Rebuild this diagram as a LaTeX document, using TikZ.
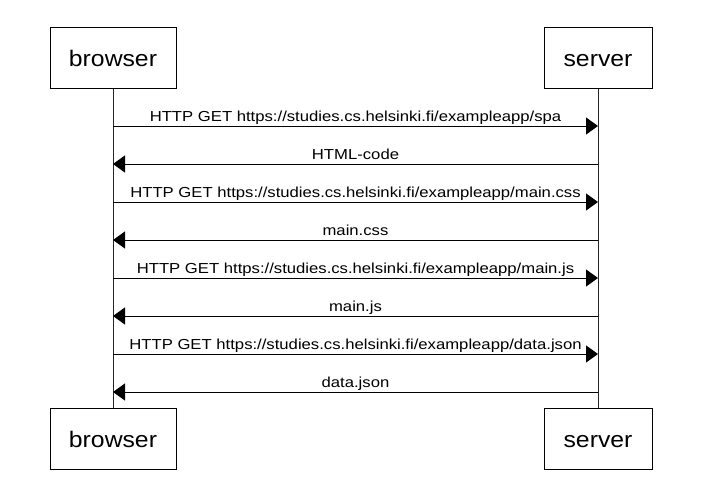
\documentclass[tikz,border=0pt]{standalone}
\usepackage{fontspec}
\usetikzlibrary{arrows.meta}
\newfontfamily\lblfont[FakeStretch=1.15]{Liberation Sans}
\newfontfamily\boxfont[FakeStretch=1.1]{Liberation Sans}
\begin{document}
\begin{tikzpicture}[x=1pt,y=-1pt,
  actor/.style={draw=black, line width=1pt, minimum height=61pt, inner sep=0pt,
    text height=17pt, text depth=0pt,
    font=\boxfont\fontsize{22.5pt}{26pt}\selectfont},
  lifeline/.style={draw=black!85, line width=1pt},
  msg/.style={draw=black, line width=1pt, -{Triangle[length=12pt,width=17pt]}},
  lbl/.style={midway, anchor=base, yshift=5pt, inner sep=0pt,
    font=\lblfont\fontsize{14.5pt}{17pt}\selectfont}]
\useasboundingbox (0,0) rectangle (702,485);
\fill[white] (0,0) rectangle (702,485);
\node[actor, minimum width=126pt] (bt) at (113,57.5) {browser};
\node[actor, minimum width=108pt] (st) at (598,57.5) {server};
\node[actor, minimum width=126pt] (bb) at (113,438.5) {browser};
\node[actor, minimum width=108pt] (sb) at (598,438.5) {server};
\draw[lifeline] (bt) -- (bb);
\draw[lifeline] (st) -- (sb);
\foreach \i in {1,...,8} {
  \coordinate (b\i) at (113,{126+38*(\i-1)});
  \coordinate (s\i) at (598,{126+38*(\i-1)});
}
\draw[msg] (b1) -- node[lbl]{HTTP GET https://studies.cs.helsinki.fi/exampleapp/spa} (s1);
\draw[msg] (s2) -- node[lbl]{HTML-code} (b2);
\draw[msg] (b3) -- node[lbl]{HTTP GET https://studies.cs.helsinki.fi/exampleapp/main.css} (s3);
\draw[msg] (s4) -- node[lbl]{main.css} (b4);
\draw[msg] (b5) -- node[lbl]{HTTP GET https://studies.cs.helsinki.fi/exampleapp/main.js} (s5);
\draw[msg] (s6) -- node[lbl]{main.js} (b6);
\draw[msg] (b7) -- node[lbl]{HTTP GET https://studies.cs.helsinki.fi/exampleapp/data.json} (s7);
\draw[msg] (s8) -- node[lbl]{data.json} (b8);
\end{tikzpicture}
\end{document}
